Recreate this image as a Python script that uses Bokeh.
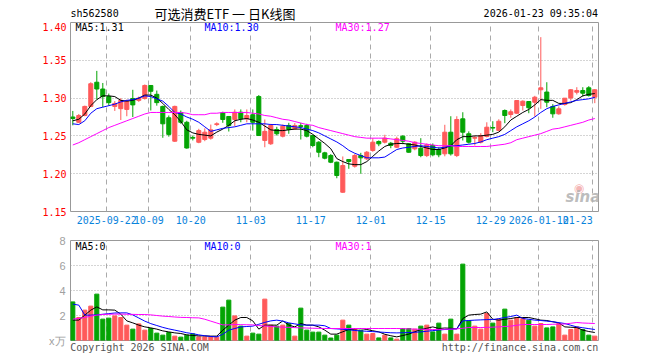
from bokeh.plotting import figure
from bokeh.models import (ColumnDataSource, FixedTicker, Range1d, Label,
                          CustomJSTickFormatter, PrintfTickFormatter)
from bokeh.core.properties import value
from bokeh.layouts import column
from bokeh.embed import file_html
from bokeh.resources import INLINE

# ---------------- data ----------------
code_name = "sh562580"
title_text = "可选消费ETF 一 日K线图"
stamp = "2026-01-23 09:35:04"
footer_texts = ["Copyright 2026 SINA.COM", "http://finance.sina.com.cn"]

open_ = [1.275, 1.268, 1.277, 1.289, 1.321, 1.312, 1.302, 1.289, 1.286, 1.285,
         1.2995, 1.297, 1.2995, 1.3167, 1.305, 1.289, 1.274, 1.243, 1.281, 1.268,
         1.248, 1.2416, 1.2452, 1.247, 1.265, 1.2806, 1.2757, 1.2717, 1.2813, 1.2726,
         1.278, 1.302, 1.244, 1.2396, 1.2585, 1.2496, 1.2638, 1.2594, 1.2635, 1.2638,
         1.2505, 1.2417, 1.2276, 1.224, 1.2152, 1.1755, 1.2188, 1.2099, 1.2241, 1.2197,
         1.2307, 1.2426, 1.2417, 1.2403, 1.235, 1.2496, 1.2396, 1.2329, 1.2337, 1.224,
         1.2373, 1.232, 1.2263, 1.2549, 1.224, 1.2726, 1.2528, 1.2470, 1.2417, 1.2492,
         1.2610, 1.2572, 1.2836, 1.2783, 1.280, 1.2902, 1.2955, 1.2945, 1.311, 1.308,
         1.2889, 1.2792, 1.2915, 1.3002, 1.3078, 1.310, 1.3136, 1.3012]
high = [1.283, 1.279, 1.290, 1.321, 1.336, 1.320, 1.306, 1.296, 1.300, 1.298,
        1.311, 1.302, 1.318, 1.317, 1.310, 1.290, 1.277, 1.290, 1.2836, 1.270,
        1.2505, 1.2594, 1.260, 1.265, 1.268, 1.282, 1.276, 1.285, 1.285, 1.285,
        1.285, 1.304, 1.2717, 1.266, 1.262, 1.265, 1.2673, 1.267, 1.2673, 1.266,
        1.251, 1.243, 1.229, 1.226, 1.216, 1.2228, 1.2188, 1.226, 1.2276, 1.230,
        1.247, 1.244, 1.2515, 1.242, 1.249, 1.251, 1.2406, 1.243, 1.247, 1.240,
        1.240, 1.235, 1.2647, 1.276, 1.276, 1.2813, 1.256, 1.2505, 1.2536, 1.268,
        1.2694, 1.272, 1.285, 1.285, 1.297, 1.297, 1.296, 1.303, 1.3806, 1.321,
        1.292, 1.289, 1.300, 1.312, 1.3144, 1.3144, 1.3158, 1.312]
low = [1.264, 1.267, 1.276, 1.288, 1.298, 1.288, 1.290, 1.283, 1.271, 1.276,
       1.275, 1.295, 1.298, 1.2836, 1.290, 1.2475, 1.249, 1.242, 1.266, 1.233,
       1.244, 1.2403, 1.243, 1.245, 1.263, 1.2673, 1.2558, 1.263, 1.268, 1.268,
       1.257, 1.250, 1.235, 1.238, 1.2505, 1.248, 1.2528, 1.258, 1.2452, 1.248,
       1.235, 1.2218, 1.219, 1.214, 1.194, 1.1747, 1.2065, 1.208, 1.1999, 1.218,
       1.229, 1.2364, 1.240, 1.2337, 1.234, 1.239, 1.2277, 1.231, 1.2218, 1.222,
       1.223, 1.2218, 1.223, 1.224, 1.222, 1.2439, 1.240, 1.2373, 1.240, 1.248,
       1.2549, 1.256, 1.2668, 1.274, 1.279, 1.2836, 1.280, 1.2757, 1.2858, 1.288,
       1.274, 1.278, 1.290, 1.2968, 1.3048, 1.302, 1.302, 1.2933]
close = [1.273, 1.277, 1.289, 1.319, 1.312, 1.302, 1.294, 1.293, 1.297, 1.296,
         1.291, 1.300, 1.3167, 1.309, 1.294, 1.266, 1.252, 1.289, 1.268, 1.234,
         1.247, 1.257, 1.2549, 1.258, 1.266, 1.2717, 1.2638, 1.2813, 1.2726, 1.277,
         1.268, 1.2505, 1.256, 1.2638, 1.2528, 1.2628, 1.2585, 1.2638, 1.2625, 1.2496,
         1.2373, 1.2284, 1.2205, 1.2152, 1.1976, 1.2108, 1.2161, 1.2241, 1.221, 1.2284,
         1.2417, 1.2395, 1.247, 1.2373, 1.2462, 1.243, 1.2284, 1.2417, 1.224, 1.2382,
         1.225, 1.225, 1.2549, 1.2263, 1.2717, 1.2549, 1.2417, 1.2478, 1.2505, 1.2615,
         1.2604, 1.2694, 1.277, 1.2819, 1.2968, 1.2959, 1.2872, 1.3012, 1.3136, 1.2946,
         1.2792, 1.2858, 1.2999, 1.311, 1.310, 1.3065, 1.3034, 1.311]

ma5 = [1.270, 1.272, 1.279, 1.290, 1.298, 1.303, 1.303, 1.302, 1.297, 1.296,
       1.297, 1.300, 1.304, 1.304, 1.300, 1.293, 1.285, 1.278, 1.269, 1.258,
       1.254, 1.252, 1.251, 1.250, 1.255, 1.259, 1.264, 1.270, 1.272, 1.273,
       1.271, 1.268, 1.263, 1.258, 1.257, 1.257, 1.258, 1.259, 1.259, 1.257,
       1.252, 1.246, 1.240, 1.233, 1.220, 1.216, 1.213, 1.212, 1.212, 1.216,
       1.223, 1.230, 1.236, 1.239, 1.240, 1.240, 1.239, 1.238, 1.236, 1.234,
       1.232, 1.232, 1.234, 1.237, 1.245, 1.249, 1.249, 1.250, 1.250, 1.251,
       1.252, 1.255, 1.262, 1.271, 1.276, 1.281, 1.285, 1.291, 1.298, 1.297,
       1.297, 1.293, 1.293, 1.294, 1.298, 1.303, 1.305, 1.306]
ma10 = [1.266, 1.265, 1.270, 1.280, 1.286, 1.288, 1.290, 1.292, 1.295, 1.297,
        1.298, 1.300, 1.303, 1.302, 1.299, 1.296, 1.289, 1.281, 1.279, 1.275,
        1.272, 1.268, 1.262, 1.256, 1.258, 1.260, 1.261, 1.262, 1.264, 1.266,
        1.266, 1.266, 1.266, 1.265, 1.265, 1.264, 1.263, 1.262, 1.261, 1.259,
        1.257, 1.254, 1.250, 1.246, 1.242, 1.237, 1.231, 1.227, 1.224, 1.221,
        1.221, 1.221, 1.222, 1.227, 1.232, 1.234, 1.235, 1.236, 1.237, 1.236,
        1.235, 1.234, 1.235, 1.237, 1.237, 1.238, 1.239, 1.240, 1.242, 1.245,
        1.247, 1.249, 1.252, 1.257, 1.262, 1.266, 1.270, 1.275, 1.281, 1.286,
        1.289, 1.291, 1.293, 1.295, 1.297, 1.298, 1.299, 1.301]
ma30 = [1.238, 1.241, 1.245, 1.249, 1.253, 1.257, 1.261, 1.264, 1.267, 1.270,
        1.273, 1.276, 1.279, 1.281, 1.281, 1.281, 1.281, 1.281, 1.281, 1.280,
        1.278, 1.278, 1.278, 1.280, 1.280, 1.281, 1.281, 1.281, 1.281, 1.281,
        1.280, 1.279, 1.277, 1.276, 1.274, 1.272, 1.271, 1.269, 1.267, 1.265,
        1.264, 1.261, 1.259, 1.257, 1.255, 1.253, 1.251, 1.249, 1.248, 1.247,
        1.247, 1.247, 1.247, 1.246, 1.245, 1.244, 1.243, 1.241, 1.240, 1.239,
        1.238, 1.237, 1.237, 1.237, 1.236, 1.236, 1.236, 1.236, 1.236, 1.236,
        1.237, 1.238, 1.239, 1.241, 1.245, 1.247, 1.249, 1.251, 1.253, 1.256,
        1.259, 1.260, 1.262, 1.264, 1.266, 1.268, 1.271, 1.273]

volume = [3.09, 1.84, 2.43, 2.75, 3.71, 1.71, 1.79, 1.97, 1.84, 1.23,
          0.91, 1.33, 0.83, 0.96, 0.59, 0.43, 0.64, 0.35, 0.27, 0.43,
          0.53, 0.29, 0.29, 0.29, 0.27, 2.67, 3.23, 1.97, 1.15, 0.35,
          0.59, 0.51, 3.31, 1.23, 1.15, 1.23, 1.36, 0.35, 2.59, 0.83,
          0.67, 0.67, 0.43, 0.20, 0.43, 1.63, 1.23, 0.96, 0.83, 0.51,
          0.56, 0.21, 0.43, 0.21, 0.11, 0.96, 0.96, 0.91, 1.15, 1.23,
          0.69, 1.39, 0.51, 1.71, 0.51, 6.11, 1.57, 1.15, 0.91, 2.16,
          1.39, 1.71, 2.51, 1.63, 1.84, 1.76, 1.63, 1.15, 1.36, 1.01,
          1.09, 1.36, 0.43, 0.88, 1.09, 0.88, 0.43, 0.35]
vol_ma5 = [1.63, 1.63, 2.03, 2.43, 2.69, 2.45, 2.45, 2.43, 2.11, 1.57,
           1.41, 1.23, 1.09, 1.01, 0.91, 0.77, 0.69, 0.61, 0.56, 0.45,
           0.40, 0.37, 0.37, 0.35, 0.35, 0.83, 1.23, 1.63, 1.84, 1.84,
           1.57, 0.91, 1.23, 1.23, 1.23, 1.57, 1.23, 1.09, 1.36, 1.23,
           1.23, 1.09, 0.83, 0.51, 0.51, 0.70, 0.88, 0.92, 0.96, 0.88,
           0.78, 0.69, 0.50, 0.38, 0.29, 0.40, 0.51, 0.70, 0.88, 0.98,
           1.09, 0.96, 1.00, 0.98, 0.93, 1.76, 2.03, 2.08, 2.11, 2.29,
           1.70, 1.63, 1.70, 1.76, 1.84, 1.84, 1.84, 1.74, 1.63, 1.60,
           1.50, 1.41, 1.09, 1.06, 1.04, 0.83, 0.72, 0.64]
vol_ma10 = [2.91, 2.83, 2.03, 2.03, 2.05, 2.10, 2.15, 2.20, 2.21, 2.21,
            2.05, 1.80, 1.55, 1.35, 1.20, 1.05, 0.93, 0.83, 0.73, 0.62,
            0.55, 0.45, 0.38, 0.32, 0.29, 0.50, 0.83, 0.96, 1.09, 1.12,
            1.15, 1.30, 1.45, 1.57, 1.63, 1.55, 1.41, 1.33, 1.25, 1.23,
            1.23, 1.23, 1.18, 0.96, 0.93, 0.90, 0.86, 0.80, 0.77, 0.74,
            0.71, 0.68, 0.65, 0.62, 0.61, 0.62, 0.64, 0.66, 0.69, 0.74,
            0.79, 0.84, 0.88, 0.90, 0.93, 1.57, 1.60, 1.63, 1.65, 1.67,
            1.68, 1.75, 1.84, 1.92, 2.03, 1.76, 1.70, 1.63, 1.60, 1.55,
            1.50, 1.43, 1.36, 1.22, 1.09, 1.02, 0.95, 0.88]
vol_ma30 = [1.71, 1.77, 1.84, 1.95, 2.03, 2.08, 2.10, 2.11, 2.11, 2.10,
            2.09, 2.08, 2.08, 2.05, 2.00, 1.95, 1.92, 1.88, 1.85, 1.84,
            1.82, 1.81, 1.70, 1.55, 1.40, 1.25, 1.25, 1.28, 1.27, 1.26,
            1.25, 1.20, 1.16, 1.13, 1.09, 1.07, 1.05, 1.03, 1.01, 1.00,
            0.98, 0.97, 0.96, 0.96, 0.96, 0.96, 0.96, 0.96, 0.96, 0.96,
            0.96, 0.96, 0.96, 0.96, 0.96, 0.95, 0.93, 0.91, 0.90, 0.89,
            0.88, 0.89, 0.90, 0.91, 0.93, 0.98, 1.04, 1.04, 1.04, 1.05,
            1.07, 1.09, 1.12, 1.15, 1.22, 1.28, 1.28, 1.28, 1.28, 1.28,
            1.30, 1.31, 1.32, 1.38, 1.44, 1.40, 1.38, 1.36]

date_labels = ["2025-09-22", "10-09", "10-20", "11-03", "11-17",
               "12-01", "12-15", "12-29", "2026-01-12", "01-23"]
date_index = [6, 13, 20, 30, 40, 50, 60, 70, 78, 87]

price_ticks = [1.15, 1.20, 1.25, 1.30, 1.35, 1.40]
price_grid = [1.20, 1.25, 1.30, 1.35]
vol_ticks = [0, 2, 4, 6, 8]
vol_grid = [2, 4, 6]

ma_price_labels = ["MA5:1.31", "MA10:1.30", "MA30:1.27"]
ma_vol_labels = ["MA5:0", "MA10:0", "MA30:1"]

# ---------------- styling / geometry ----------------
RED, GREEN = "#ff5a5a", "#04a404"
MA_COLORS = ["#000000", "#0000ff", "#ff00ff"]
GRID_C = "#aaaaaa"
DATE_C = "#0a84dc"
MONO = "DejaVu Sans Mono"
W = 660
LB, RB = 70, 62
X0, X1 = -0.05, 87.95
OFF = 1.0 / 3.0          # candle centre sits a third of a slot right of its gridline
BODY_W = 0.68

HEAD_H = 22
Y0, Y1 = 1.15, 1.40
P_TOP, P_H = 22, 189     # page position of the price frame
V0, V1 = 0, 8
V_TOP, V_H = 240, 100    # page position of the volume frame


def xd(px):
    return X0 + (px - LB) / (W - LB - RB) * (X1 - X0)


def yp(py):
    return Y1 - (py - P_TOP) / P_H * (Y1 - Y0)


def yv(py):
    return V1 - (py - V_TOP) / V_H * (V1 - V0)


n = len(close)
xs = [i + OFF for i in range(n)]
colors = [RED if c >= o else GREEN for o, c in zip(open_, close)]
src = ColumnDataSource(dict(
    x=xs, open=open_, high=high, low=low, close=close,
    top=[max(o, c) for o, c in zip(open_, close)],
    bottom=[min(o, c) for o, c in zip(open_, close)],
    color=colors, vol=volume,
    ma5=ma5, ma10=ma10, ma30=ma30,
    vma5=vol_ma5, vma10=vol_ma10, vma30=vol_ma30,
))

grid_x = [float(i) for i in date_index]
label_x = [float(i) for i in date_index]
label_x[-1] = date_index[-1] - 2.5   # last label right-aligned to its gridline


def base_fig(height, ymin, ymax, top, bottom):
    p = figure(width=W, height=height, output_backend="svg", toolbar_location=None,
               x_range=Range1d(X0, X1), y_range=Range1d(ymin, ymax),
               min_border_left=LB, min_border_right=RB,
               min_border_top=top, min_border_bottom=bottom)
    p.background_fill_color = "white"
    p.border_fill_color = "white"
    p.outline_line_color = "#999999"
    p.outline_line_width = 1
    for ax in p.axis:
        ax.axis_line_color = None
        ax.major_tick_line_color = None
        ax.minor_tick_line_color = None
        ax.major_tick_out = 0
        ax.major_tick_in = 0
    p.xgrid.ticker = FixedTicker(ticks=grid_x)
    p.xgrid.grid_line_color = GRID_C
    p.xgrid.grid_line_dash = "5 4"
    p.ygrid.grid_line_color = GRID_C
    p.ygrid.grid_line_dash = "1 2"
    return p


# ---------------- header strip (frame spans the same 70..598 as the panels) ----------------
head = figure(width=W, height=HEAD_H, output_backend="svg", toolbar_location=None,
              x_range=Range1d(LB, W - RB), y_range=Range1d(HEAD_H, 0),
              x_axis_type=None, y_axis_type=None,
              min_border_left=LB, min_border_right=RB, min_border_top=0, min_border_bottom=0)
head.outline_line_color = None
head.xgrid.visible = False
head.ygrid.visible = False
head.text(x=[LB], y=[13], text=[code_name], text_font=value(MONO), text_font_size="10px",
          text_color="#000000", text_baseline="middle", text_align="left")
head.text(x=[224.5], y=[12.5], text=[title_text], text_font=value("Noto Sans CJK SC"),
          text_font_size="13px", text_color="#000000", text_baseline="middle", text_align="center")
head.text(x=[597.5], y=[13], text=[stamp], text_font=value(MONO), text_font_size="10px",
          text_color="#000000", text_baseline="middle", text_align="right")

# ---------------- price panel ----------------
p1 = base_fig(P_H + 21, Y0, Y1, 0, 21)
p1.ygrid.ticker = FixedTicker(ticks=price_grid)
p1.yaxis.ticker = FixedTicker(ticks=price_ticks)
p1.yaxis.formatter = PrintfTickFormatter(format="%.2f")
p1.yaxis.major_label_text_color = "#ff0000"
p1.yaxis.major_label_text_font = MONO
p1.yaxis.major_label_text_font_size = "10px"
p1.yaxis.major_label_standoff = 4
p1.xaxis.ticker = FixedTicker(ticks=label_x)
p1.xaxis.formatter = CustomJSTickFormatter(args=dict(pos=label_x, txt=date_labels), code="""
const k = pos.findIndex(v => Math.abs(v - tick) < 1e-6);
return k >= 0 ? txt[k] : "";
""")
p1.xaxis.major_label_text_color = DATE_C
p1.xaxis.major_label_text_font = MONO
p1.xaxis.major_label_text_font_size = "10px"
p1.xaxis.major_label_standoff = 4
p1.xgrid.ticker = FixedTicker(ticks=grid_x)

p1.segment(x0="x", y0="low", x1="x", y1="high", line_color="color", line_width=1, source=src)
p1.vbar(x="x", width=BODY_W, top="top", bottom="bottom", fill_color="color",
        line_color="color", line_width=1, source=src)
for key, col in zip(["ma5", "ma10", "ma30"], MA_COLORS):
    p1.line(x="x", y=key, line_color=col, line_width=1, source=src)

for txt, px, col in zip(ma_price_labels, [75, 204, 335], MA_COLORS):
    p1.add_layout(Label(x=xd(px), y=yp(27), text=txt, text_color=col, text_font=MONO,
                        text_font_size="10px", text_baseline="middle", text_align="left"))

# watermark
p1.add_layout(Label(x=xd(578.5), y=yp(187), text="◉", text_color="#f2a2a2", text_alpha=0.8,
                    text_font="DejaVu Sans", text_font_size="12px",
                    text_baseline="middle", text_align="center"))
p1.add_layout(Label(x=xd(565), y=yp(196), text="sina", text_color="#b4b4b4", text_alpha=0.9,
                    text_font="DejaVu Sans", text_font_style="bold italic", text_font_size="15px",
                    text_baseline="middle", text_align="left"))

# ---------------- volume panel ----------------
p2 = base_fig(128, V0, V1, 8, 20)
p2.xgrid.ticker = FixedTicker(ticks=grid_x)
p2.ygrid.ticker = FixedTicker(ticks=vol_grid)
p2.yaxis.ticker = FixedTicker(ticks=vol_ticks)
p2.yaxis.major_label_overrides = {0: "x万"}
p2.yaxis.major_label_text_color = "#a0a0a0"
p2.yaxis.major_label_text_font = "Liberation Sans"
p2.yaxis.major_label_text_font_size = "11px"
p2.yaxis.major_label_standoff = 5
# footer texts ride on the bottom axis of the volume panel
foot_x = [xd(LB + 69), xd(597.5 - 78)]
p2.xaxis.ticker = FixedTicker(ticks=foot_x)
p2.xaxis.formatter = CustomJSTickFormatter(args=dict(pos=foot_x, txt=footer_texts), code="""
const k = pos.findIndex(v => Math.abs(v - tick) < 1e-6);
return k >= 0 ? txt[k] : "";
""")
p2.xaxis.major_label_text_color = "#555555"
p2.xaxis.major_label_text_font = MONO
p2.xaxis.major_label_text_font_size = "10px"
p2.xaxis.major_label_standoff = 1

p2.vbar(x="x", width=BODY_W, top="vol", bottom=0, fill_color="color",
        line_color="color", line_width=1, source=src)
for key, col in zip(["vma5", "vma10", "vma30"], MA_COLORS):
    p2.line(x="x", y=key, line_color=col, line_width=1, source=src)

for txt, px, col in zip(ma_vol_labels, [75, 204, 335], MA_COLORS):
    p2.add_layout(Label(x=xd(px), y=yv(246), text=txt, text_color=col, text_font=MONO,
                        text_font_size="10px", text_baseline="middle", text_align="left"))

layout = column(head, p1, p2, spacing=0)
open("out.html", "w").write(file_html(layout, INLINE))
